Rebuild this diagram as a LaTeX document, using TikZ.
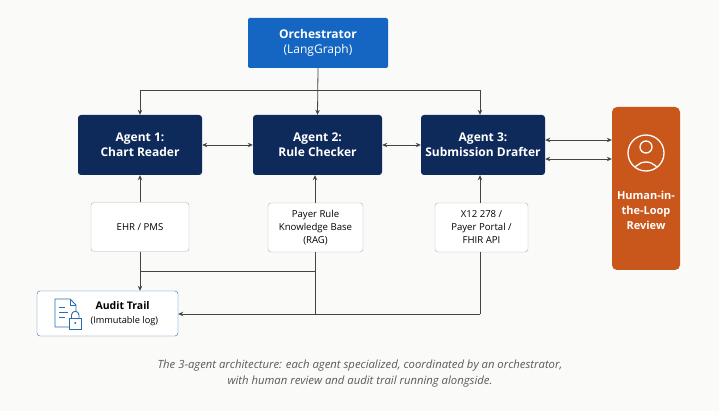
\documentclass[tikz,border=0pt]{standalone}
\usepackage{fontspec}
\setmainfont{Open Sans}
\usetikzlibrary{arrows.meta}
\definecolor{bg}{HTML}{FAFAF8}
\definecolor{navy}{HTML}{0E2A5A}
\definecolor{oblue}{HTML}{1466C2}
\definecolor{oran}{HTML}{C9561B}
\definecolor{ln}{HTML}{444444}
\definecolor{abl}{HTML}{2A6CB0}
\begin{document}
\begin{tikzpicture}[x=1pt,y=-1pt,
 agent/.style={draw=none,fill=navy,rounded corners=3pt,text=white,font=\bfseries\fontsize{12}{15}\selectfont,align=center,minimum height=60pt,inner sep=0pt},
 src/.style={draw=gray!60,fill=white,rounded corners=3pt,font=\fontsize{9.6}{13}\selectfont,align=center,minimum height=49pt,inner sep=0pt},
 conn/.style={draw=ln,line width=0.8pt},
 arr/.style={conn,-{Stealth[length=5pt,width=4.5pt]}},
 darr/.style={conn,{Stealth[length=5pt,width=4.5pt]}-{Stealth[length=5pt,width=4.5pt]}}]
\fill[bg] (0,0) rectangle (719,411);
\node[fill=oblue,rounded corners=2pt,text=white,font=\fontsize{12}{15}\selectfont,align=center,minimum width=140pt,minimum height=50pt,inner sep=0pt] (orch) at (318,43) {\textbf{Orchestrator}\\(LangGraph)};
\node[agent,minimum width=124pt] (a1) at (140,145) {Agent 1:\\Chart Reader};
\node[agent,minimum width=129pt] (a2) at (317.5,145) {Agent 2:\\Rule Checker};
\node[agent,minimum width=124pt] (a3) at (483,145) {Agent 3:\\Submission Drafter};
\node[fill=oran,rounded corners=5pt,minimum width=68pt,minimum height=163pt,inner sep=0pt] (hum) at (646,188.5) {};
\draw[white,line width=1.3pt] (646,153) circle (18pt);
\draw[white,line width=1.3pt] (646,147) circle (6pt);
\begin{scope}
\clip (646,153) circle (17.4pt);
\draw[white,line width=1.3pt] (646,176) circle (14pt);
\end{scope}
\node[text=white,font=\bfseries\fontsize{11}{15}\selectfont,align=center] (htxt) at (646,210) {Human-in-\\the-Loop\\Review};
\node[src,minimum width=98pt] (ehr) at (140,227) {EHR / PMS};
\node[src,minimum width=95pt] (kb) at (315.5,227.5) {Payer Rule\\Knowledge Base\\(RAG)};
\node[src,minimum width=93pt] (x12) at (481.5,227.5) {X12 278 /\\Payer Portal /\\FHIR API};
\node[draw=abl,fill=white,rounded corners=3pt,minimum width=141pt,minimum height=45pt,inner sep=0pt] (aud) at (107.5,313.5) {};
\node[font=\bfseries\fontsize{10.5}{12}\selectfont,anchor=west] (audt) at (92,306) {Audit Trail};
\node[font=\fontsize{9.2}{11}\selectfont,anchor=west] (auds) at (87,321.5) {(Immutable log)};
\draw[abl,line width=0.9pt,line join=round] (72,327) -- (55,327) -- (55,299) -- (70,299) -- (76,305) -- (76,311);
\draw[abl,line width=0.9pt] (70,299) -- (70,305) -- (76,305);
\draw[abl,line width=0.9pt] (59,307)--(65,307) (59,312)--(68,312) (59,317)--(65,317);
\draw[abl,line width=0.9pt,fill=white] (69.5,318) rectangle (81,329);
\draw[abl,line width=0.9pt] (71.5,318) -- (71.5,315) arc (180:0:3.75pt) -- (79,318);
\fill[abl] (75.25,323) circle (1.1pt);
\coordinate (j1) at (140,90); \coordinate (j3) at (480,90);
\draw[arr] (orch.south) -- (a2.north);
\draw[conn] (j1) -- (j3);
\draw[arr] (j1) -- (a1.north);
\draw[arr] (j3) -- (a3.north -| j3);
\draw[darr] (a1.east) -- (a2.west);
\draw[darr] (a2.east) -- (a3.west);
\draw[darr] (a3.east |- 0,140) -- (hum.west |- 0,140);
\draw[darr] (a3.east |- 0,159) -- (hum.west |- 0,159);
\draw[arr] (ehr.north) -- (a1.south);
\draw[arr] (kb.north -| 315,0) -- (a2.south -| 315,0);
\draw[arr] (x12.north -| 480,0) -- (a3.south -| 480,0);
\coordinate (b1) at (140,271); \coordinate (b2) at (315,271);
\coordinate (c2) at (315,314); \coordinate (c3) at (480,314);
\draw[arr] (ehr.south) -- (aud.north -| ehr.south);
\draw[conn] (b1) -- (b2);
\draw[conn] (kb.south -| b2) -- (c2);
\draw[conn] (x12.south -| c3) -- (c3);
\draw[arr] (c3) -- (aud.east |- c3);
\node[text=gray!70!black,font=\itshape\fontsize{11.3}{16}\selectfont,align=center] (cap) at (360,374) {The 3-agent architecture: each agent specialized, coordinated by an orchestrator,\\with human review and audit trail running alongside.};
\end{tikzpicture}
\end{document}
